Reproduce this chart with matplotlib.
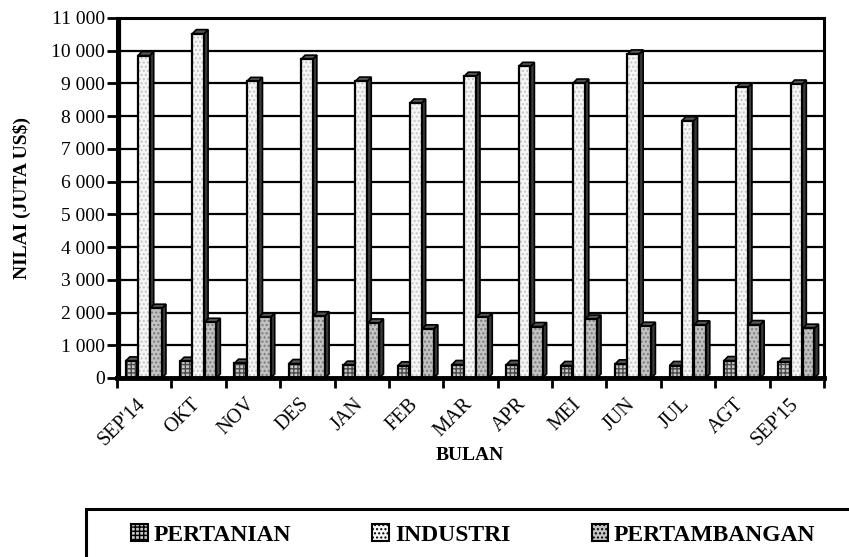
import matplotlib
matplotlib.use("Agg")
import matplotlib.pyplot as plt
from matplotlib.patches import Rectangle, Polygon, Patch
from matplotlib.ticker import FixedLocator, FuncFormatter
from matplotlib.transforms import ScaledTranslation

plt.rcParams['font.family'] = ['Liberation Serif', 'DejaVu Serif']

categories = ["SEP'14", "OKT", "NOV", "DES", "JAN", "FEB", "MAR", "APR",
              "MEI", "JUN", "JUL", "AGT", "SEP'15"]
pertanian = [520, 510, 450, 440, 390, 370, 410, 410, 380, 430, 380, 530, 480]
industri = [9850, 10520, 9060, 9740, 9070, 8400, 9220, 9520, 9010, 9900, 7860, 8880, 8980]
pertambangan = [2130, 1700, 1860, 1900, 1680, 1500, 1860, 1570, 1800, 1580, 1620, 1630, 1520]
series_names = ["PERTANIAN", "INDUSTRI", "PERTAMBANGAN"]
y_ticks = list(range(0, 11001, 1000))

W, H = 849, 557
fig = plt.figure(figsize=(W / 100, H / 100), dpi=100)
ax = fig.add_axes([117 / W, 1 - 378 / H, 707 / W, 360 / H])
ax.set_xlim(0, len(categories))
ax.set_ylim(0, 11000)

# styles: (facecolor, hatch, hatchcolor)
styles = [("#c8c8c8", "++++", "#4a4a4a"),
          ("#f6f6f6", "....", "#c4c4c4"),
          ("#c2c2c2", "....", "#7a7a7a")]
bw = 0.215
start = 0.16
dx = 0.075
dy = 125

ax.set_axisbelow(True)
ax.yaxis.grid(True, color="black", lw=1.6)
ax.axvline(0.06, color="black", lw=1.6, zorder=1)

for i in range(len(categories)):
    for s, vals in enumerate([pertanian, industri, pertambangan]):
        v = vals[i]
        x0 = i + start + s * (bw + 0.01)
        x1 = x0 + bw
        fc, hatch, hc = styles[s]
        z = 3 + s * 0.1 + i * 0.001
        ax.add_patch(Polygon([(x1, 0), (x1 + dx, dy), (x1 + dx, v + dy), (x1, v)],
                             closed=True, facecolor="#3a3a3a", edgecolor="black",
                             lw=1.2, zorder=z))
        ax.add_patch(Polygon([(x0, v), (x0 + dx, v + dy), (x1 + dx, v + dy), (x1, v)],
                             closed=True, facecolor="#555555", edgecolor="black",
                             lw=1.2, zorder=z))
        ax.add_patch(Rectangle((x0, 0), bw, v, facecolor=fc, edgecolor=hc,
                               hatch=hatch, lw=0, zorder=z))
        ax.add_patch(Rectangle((x0, 0), bw, v, fill=False, edgecolor="black",
                               lw=1.6, zorder=z))

for side in ["top", "right", "left"]:
    ax.spines[side].set_linewidth(2.2)
ax.spines["bottom"].set_linewidth(3.5)
ax.spines["bottom"].set_zorder(10)

ax.yaxis.set_major_locator(FixedLocator(y_ticks))
ax.yaxis.set_major_formatter(FuncFormatter(lambda v, p: f"{int(v):,}".replace(",", " ")))
ax.tick_params(axis="y", direction="out", length=7.5, width=2, labelsize=14, pad=1)

ax.set_xticks(range(len(categories) + 1))
ax.set_xticklabels([])
ax.set_xticks([i + 0.5 for i in range(len(categories))], minor=True)
ax.set_xticklabels(categories, minor=True)
ax.tick_params(axis="x", which="major", direction="out", length=7, width=2)
ax.tick_params(axis="x", which="minor", length=0, labelsize=14.5, pad=12)
shift = ScaledTranslation(-8 / 100, 0, fig.dpi_scale_trans)
for lab in ax.get_xticklabels(minor=True):
    lab.set_rotation(45)
    lab.set_ha("right")
    lab.set_va("top")
    lab.set_rotation_mode("anchor")
    lab.set_transform(lab.get_transform() + shift)

fig.text(470 / W, 1 - 455 / H, "BULAN", ha="center", va="center",
         fontsize=14, fontweight="bold")
fig.text(22 / W, 1 - 198 / H, "NILAI (JUTA US$)", ha="center", va="center",
         rotation=90, fontsize=14, fontweight="bold")

# legend box (extends past the figure edges on right and bottom)
fig.patches.append(Rectangle((86 / W, -0.2), 1.0, 0.2 + (H - 509) / H,
                             transform=fig.transFigure, fill=False,
                             edgecolor="black", lw=2.2, clip_on=False))
handles = [Patch(facecolor=st[0], edgecolor="black", hatch=st[1], lw=1.5) for st in styles]
leg = fig.legend(handles, series_names, loc="center left",
                 bbox_to_anchor=(131 / W, 1 - 535 / H), ncol=3, frameon=False,
                 borderpad=0, prop={"weight": "bold", "size": 17},
                 handlelength=0.7, handleheight=0.7, handletextpad=0.25,
                 columnspacing=3.45, borderaxespad=0)

fig.savefig("out.png", dpi=100)
